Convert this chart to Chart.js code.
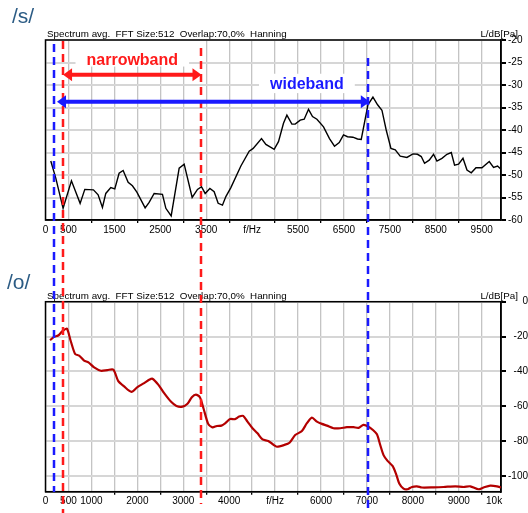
<!DOCTYPE html>
<html>
<head>
<meta charset="utf-8">
<script src="https://cdn.jsdelivr.net/npm/chart.js@4.4.1/dist/chart.umd.min.js"></script>
<style>
  html, body { margin: 0; padding: 0; background: #fff; }
  #wrap { position: relative; width: 528px; height: 513px; overflow: hidden; }
  canvas { position: absolute; left: 0; }
  #sChart { top: 0; }
  #oChart { top: 256px; }
</style>
</head>
<body>
<div id="wrap">
  <canvas id="sChart" width="528" height="256"></canvas>
  <canvas id="oChart" width="528" height="257"></canvas>
</div>
<script>
// /s/ spectrum (f in Hz, level in dB)
const sFreq = [115, 224, 383, 565, 754, 856, 1044, 1146, 1240, 1313, 1422, 1509, 1603, 1691, 1800,
  1893, 1990, 2170, 2257, 2366, 2547, 2621, 2737, 2911, 3020, 3194, 3310, 3397, 3477, 3580,
  3673, 3760, 3854, 3928, 4037, 4255, 4436, 4523, 4704, 4800, 4980, 5074, 5183, 5257, 5366,
  5438, 5547, 5634, 5728, 5815, 5911, 6055, 6185, 6294, 6397, 6490, 6577, 6695, 6795, 6876,
  7022, 7131, 7232, 7327, 7420, 7523, 7617, 7725, 7871, 8002, 8102, 8183, 8255, 8357, 8451,
  8525, 8634, 8743, 8837, 8909, 8996, 9092, 9179, 9272, 9375, 9505, 9664, 9758, 9845, 9920];
const sLevel = [-46.9, -50.7, -57.4, -51.3, -56.3, -53.2, -53.3, -54.4, -57.2, -54.1, -52.8, -53.1, -49.6, -49.0, -51.6,
  -52.4, -53.8, -57.3, -56.1, -54.1, -54.3, -57.4, -59.1, -48.5, -47.6, -55.0, -53.2, -52.6, -54.1, -53.0,
  -53.7, -56.3, -56.7, -54.8, -52.8, -48.0, -44.7, -44.1, -41.9, -43.2, -44.3, -42.6, -38.5, -36.7, -38.7,
  -38.7, -37.8, -37.6, -35.4, -37.0, -37.6, -39.3, -41.9, -43.6, -42.8, -41.1, -41.5, -41.6, -42.0, -42.1,
  -34.4, -32.7, -34.4, -35.6, -40.0, -44.1, -44.4, -45.8, -46.1, -45.3, -45.4, -45.9, -47.4, -46.7, -45.4,
  -46.9, -46.3, -45.4, -45.0, -47.8, -47.6, -46.3, -48.9, -49.5, -48.4, -48.4, -47.0, -48.3, -48.0, -48.7];

// /o/ spectrum
const oFreq = [100, 187, 275, 368, 464, 551, 645, 732, 841, 935, 1059, 1205, 1349, 1479, 1582,
  1712, 1871, 2002, 2148, 2257, 2329, 2460, 2584, 2730, 2852, 2983, 3092, 3187, 3275, 3362,
  3440, 3543, 3636, 3732, 3832, 3928, 4022, 4124, 4218, 4305, 4399, 4508, 4617, 4726, 4850,
  4960, 5039, 5198, 5314, 5438, 5584, 5693, 5802, 5911, 6020, 6129, 6272, 6418, 6564, 6708,
  6817, 6926, 7035, 7131, 7218, 7290, 7362, 7449, 7558, 7632, 7704, 7797, 7885, 7980, 8089,
  8198, 8451, 8669, 8924, 9105, 9251, 9431, 9540, 9686, 9832, 9920];
const oLevel = [-22.1, -20.2, -19.4, -16.9, -15.4, -22.7, -30.0, -30.9, -33.8, -34.8, -37.7, -39.6, -39.2, -39.0, -45.4,
  -48.6, -51.7, -49.0, -46.7, -44.8, -44.2, -47.7, -52.5, -57.3, -59.8, -60.2, -58.6, -54.8, -53.3, -54.8,
  -61.1, -70.1, -72.1, -71.3, -71.1, -69.4, -67.3, -67.4, -65.9, -65.5, -68.8, -72.6, -75.5, -79.0, -79.9,
  -82.0, -83.2, -82.2, -80.9, -76.5, -74.2, -69.7, -66.5, -68.8, -70.1, -71.1, -72.6, -72.6, -72.0, -72.0,
  -72.4, -70.7, -71.7, -73.6, -76.1, -82.2, -88.0, -91.3, -94.2, -98.6, -104.3, -107.2, -107.6, -106.3, -105.9,
  -106.6, -106.5, -106.3, -105.9, -106.3, -105.9, -107.6, -106.6, -105.5, -105.9, -106.6];

// axis ticks
const sTickValues = [0, 500, 1000, 1500, 2000, 2500, 3000, 3500, 4000, 4500, 5000, 5500, 6000, 6500, 7000, 7500, 8000, 8500, 9000, 9500];
const sTickLabels = ['0', '500', '', '1500', '', '2500', '', '3500', '', 'f/Hz', '', '5500', '', '6500', '', '7500', '', '8500', '', '9500'];
const oTickValues = [0, 500, 1000, 1500, 2000, 2500, 3000, 3500, 4000, 4500, 5000, 5500, 6000, 6500, 7000, 7500, 8000, 8500, 9000, 9500, 9770];
const oTickLabels = ['0', '500', '1000', '', '2000', '', '3000', '', '4000', '', 'f/Hz', '', '6000', '', '7000', '', '8000', '', '9000', '', '10k'];
const sLevelTicks = [-60, -55, -50, -45, -40, -35, -30, -25, -20];
const oLevelTicks = [-100, -80, -60, -40, -20, 0];

// band edges in Hz
const wideLow = 185, narrowLow = 383, narrowHigh = 3397, wideHigh = 7020;

const titleText = 'Spectrum avg.  FFT Size:512  Overlap:70,0%  Hanning';
const RED = '#ff1a1a', BLUE = '#1a1aff';
const FONT = '"Liberation Sans", Arial, sans-serif';

// dashed lines run through both charts, y in page pixels
const bandLines = [
    { freq: wideLow, color: BLUE, from: 44, to: 492 },
    { freq: narrowLow, color: RED, from: 41, to: 513 },
    { freq: narrowHigh, color: RED, from: 48, to: 504 },
    { freq: wideHigh, color: BLUE, from: 58, to: 513 },
];

Chart.defaults.font.family = FONT;
Chart.defaults.font.size = 10;
Chart.defaults.color = '#000';

function toPoints(xs, ys) {
    return xs.map((x, i) => ({ x: x, y: ys[i] }));
}

function drawFrame(chart, label, labelX, labelY) {
    const ctx = chart.ctx, a = chart.chartArea;
    ctx.save();
    ctx.strokeStyle = '#000';
    ctx.lineWidth = 1.5;
    ctx.strokeRect(a.left, a.top, a.right - a.left, a.bottom - a.top);
    ctx.fillStyle = '#000';
    ctx.font = '9.8px ' + FONT;
    ctx.textAlign = 'left';
    ctx.fillText(titleText, a.left + 1.5, a.top - 3);
    ctx.textAlign = 'right';
    ctx.fillText('L/dB[Pa]', a.right + 17, a.top - 3);
    ctx.fillStyle = '#2b5b84';
    ctx.font = '21px ' + FONT;
    ctx.textAlign = 'left';
    ctx.fillText(label, labelX, labelY);
    ctx.restore();
}

function drawBandLines(chart, offsetTop) {
    const ctx = chart.ctx, xs = chart.scales.x;
    ctx.save();
    ctx.setLineDash([8, 5]);
    ctx.lineWidth = 2.5;
    bandLines.forEach(l => {
        const px = Math.round(xs.getPixelForValue(l.freq));
        ctx.strokeStyle = l.color;
        ctx.beginPath();
        ctx.moveTo(px, l.from - offsetTop);
        ctx.lineTo(px, l.to - offsetTop);
        ctx.stroke();
    });
    ctx.restore();
}

function drawArrow(ctx, x1, x2, y, color) {
    const head = 9, half = 6.5;
    ctx.save();
    ctx.setLineDash([]);
    ctx.strokeStyle = color;
    ctx.fillStyle = color;
    ctx.lineWidth = 4;
    ctx.beginPath();
    ctx.moveTo(x1 + head - 1, y);
    ctx.lineTo(x2 - head + 1, y);
    ctx.stroke();
    ctx.beginPath();
    ctx.moveTo(x1, y); ctx.lineTo(x1 + head, y - half); ctx.lineTo(x1 + head, y + half);
    ctx.closePath(); ctx.fill();
    ctx.beginPath();
    ctx.moveTo(x2, y); ctx.lineTo(x2 - head, y - half); ctx.lineTo(x2 - head, y + half);
    ctx.closePath(); ctx.fill();
    ctx.restore();
}

function labelBox(ctx, text, cx, baseline, top, bottom, color) {
    ctx.save();
    ctx.font = 'bold 16px ' + FONT;
    const w = ctx.measureText(text).width;
    ctx.fillStyle = '#fff';
    ctx.fillRect(cx - w / 2 - 11, top, w + 22, bottom - top);
    ctx.fillStyle = color;
    ctx.textAlign = 'center';
    ctx.fillText(text, cx, baseline);
    ctx.restore();
}

const sPlugin = {
    id: 'sDecor',
    beforeDatasetsDraw(chart) {
        const ctx = chart.ctx, xs = chart.scales.x, ys = chart.scales.y, a = chart.chartArea;
        const nCx = (xs.getPixelForValue(narrowLow) + xs.getPixelForValue(narrowHigh)) / 2;
        labelBox(ctx, 'narrowband', nCx, ys.getPixelForValue(-25.5), a.top + 1, ys.getPixelForValue(-25.9), RED);
        labelBox(ctx, 'wideband', xs.getPixelForValue(5693), ys.getPixelForValue(-30.9), ys.getPixelForValue(-27.5), ys.getPixelForValue(-31.8), BLUE);
        drawFrame(chart, '/s/', 12, 23);
    },
    afterDraw(chart) {
        const ctx = chart.ctx, xs = chart.scales.x, ys = chart.scales.y;
        drawBandLines(chart, 0);
        drawArrow(ctx, xs.getPixelForValue(narrowLow), xs.getPixelForValue(narrowHigh), ys.getPixelForValue(-27.7), RED);
        drawArrow(ctx, xs.getPixelForValue(wideLow) + 3, xs.getPixelForValue(wideHigh) + 2, ys.getPixelForValue(-33.7), BLUE);
    }
};

const oPlugin = {
    id: 'oDecor',
    beforeDatasetsDraw(chart) {
        drawFrame(chart, '/o/', 7, 33);
    },
    afterDraw(chart) {
        drawBandLines(chart, 256);
    }
};

function makeChart(canvasId, freq, level, lineColor, lineWidth, tension, tickValues, tickLabels, yTicks, yMin, yMax,
                   padTop, xHeight, yAlign, tickMarkTest, plugin) {
    const canvas = document.getElementById(canvasId);
    return new Chart(canvas.getContext('2d'), {
        type: 'line',
        data: {
            datasets: [{
                data: toPoints(freq, level),
                borderColor: lineColor,
                borderWidth: lineWidth,
                pointRadius: 0,
                tension: tension,
                fill: false,
            }],
        },
        options: {
            responsive: false,
            animation: false,
            devicePixelRatio: 1,
            layout: { padding: { top: padTop, left: 45.5, right: 0, bottom: 0 } },
            plugins: { legend: { display: false }, tooltip: { enabled: false }, title: { display: false } },
            scales: {
                x: {
                    type: 'linear',
                    min: 0,
                    max: 9920,
                    afterBuildTicks: scale => { scale.ticks = tickValues.map(v => ({ value: v })); },
                    afterFit: scale => { scale.height = xHeight; },
                    ticks: {
                        autoSkip: false,
                        maxRotation: 0,
                        minRotation: 0,
                        padding: 1,
                        callback: (value, index) => tickLabels[index],
                    },
                    grid: {
                        color: c => (c.tick && c.tick.value === 9770) ? 'rgba(0,0,0,0)' : '#c4c4c4',
                        lineWidth: 1.3,
                        tickLength: 3,
                        tickColor: c => (c.tick && tickMarkTest(c.tick.value)) ? '#000' : 'rgba(0,0,0,0)',
                    },
                    border: { display: true, color: '#000', width: 1.5 },
                },
                y: {
                    position: 'right',
                    min: yMin,
                    max: yMax,
                    afterBuildTicks: scale => { scale.ticks = yTicks.map(v => ({ value: v })); },
                    afterFit: scale => { scale.width = 27; },
                    ticks: { padding: 2, crossAlign: yAlign },
                    grid: { color: '#d6d6d6', lineWidth: 2, tickLength: 5, tickColor: '#000' },
                    border: { display: true, color: '#000', width: 1.5 },
                },
            },
        },
        plugins: [plugin],
    });
}

makeChart('sChart', sFreq, sLevel, '#000', 1.4, 0, sTickValues, sTickLabels, sLevelTicks, -60, -20,
    40, 36, 'near', v => v > 0 && v % 1000 === 0, sPlugin);
makeChart('oChart', oFreq, oLevel, '#b30000', 2.2, 0.25, oTickValues, oTickLabels, oLevelTicks, -109, 0,
    45.7, 21.3, 'far', v => v > 500 && v % 1000 === 500, oPlugin);
</script>
</body>
</html>
